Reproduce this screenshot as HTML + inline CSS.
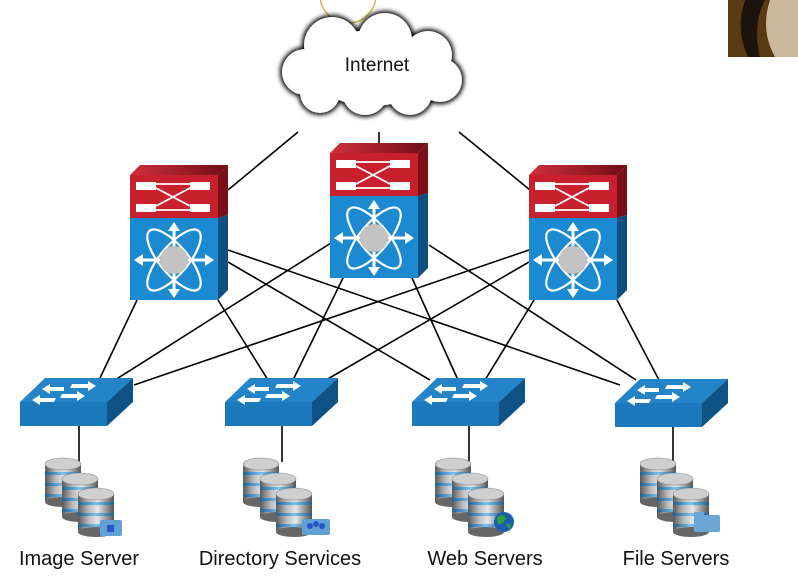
<!DOCTYPE html>
<html><head><meta charset="utf-8"><style>
html,body{margin:0;padding:0;background:#fff}
svg{display:block}
text{font-family:"Liberation Sans",sans-serif;fill:#111}
</style></head><body>
<svg width="798" height="583" viewBox="0 0 798 583" xmlns="http://www.w3.org/2000/svg">
<defs>
<linearGradient id="cyl" x1="0" x2="1" y1="0" y2="0">
<stop offset="0" stop-color="#5a5a5a"/><stop offset="0.3" stop-color="#bdbdbd"/><stop offset="0.55" stop-color="#e6e6e6"/><stop offset="1" stop-color="#555"/></linearGradient>
<linearGradient id="band" x1="0" x2="1"><stop offset="0" stop-color="#1d5f96"/><stop offset="0.5" stop-color="#7cc3ef"/><stop offset="1" stop-color="#1d5f96"/></linearGradient>
<linearGradient id="redtop" x1="0" x2="1"><stop offset="0" stop-color="#d0303c"/><stop offset="1" stop-color="#6e0d15"/></linearGradient>
<filter id="blur" x="-20%" y="-20%" width="140%" height="140%"><feGaussianBlur stdDeviation="2.5"/></filter>
<g id="core">
<polygon points="0,10 10,0 98,0 88,10" fill="url(#redtop)"/>
<rect x="0" y="10" width="88" height="43" fill="#c8202d"/>
<polygon points="88,10 98,0 98,50 88,53" fill="#7a0f18"/>
<rect x="0" y="53" width="88" height="82" fill="#1b8ad0"/>
<polygon points="88,53 98,50 98,125 88,135" fill="#0d4f7e"/>
<rect x="6" y="17" width="20" height="8" fill="#fff"/><rect x="60" y="17" width="20" height="8" fill="#fff"/>
<rect x="6" y="39" width="20" height="8" fill="#fff"/><rect x="60" y="39" width="20" height="8" fill="#fff"/>
<g stroke="#fff" stroke-width="1.8" fill="none"><line x1="26" y1="19" x2="60" y2="19"/><line x1="26" y1="45" x2="60" y2="45"/><line x1="26" y1="23" x2="60" y2="41"/><line x1="26" y1="41" x2="60" y2="23"/></g>
<g stroke="#fff" stroke-width="2.2" fill="none">
<ellipse cx="44" cy="95" rx="38" ry="14" transform="rotate(50 44 95)"/>
<ellipse cx="44" cy="95" rx="38" ry="14" transform="rotate(-50 44 95)"/>
<line x1="44" y1="62" x2="44" y2="128" stroke-width="3"/><line x1="9" y1="95" x2="79" y2="95" stroke-width="3"/></g>
<g fill="#fff"><polygon points="44,57 38,66 50,66"/><polygon points="44,133 38,124 50,124"/><polygon points="4,95 13,89 13,101"/><polygon points="84,95 75,89 75,101"/></g>
<circle cx="44" cy="95" r="14" fill="#c3c3c3"/>
</g>
<g id="acc">
<polygon points="0,24 25,0 113,0 87,24" fill="#2384c7"/>
<rect x="0" y="24" width="87" height="24" fill="#1b79bc"/>
<polygon points="87,24 113,0 113,24 87,48" fill="#0f5386"/>
<g fill="#fff">
<polygon points="22,11 30,6 30,9 44,9 44,13 30,13 30,16"/>
<polygon points="76,8 68,3 68,6 52,6 50,10 68,10 68,13"/>
<polygon points="12,22 20,17 20,20 36,20 34,24 20,24 20,27"/>
<polygon points="65,18 57,13 57,16 42,16 40,20 57,20 57,23"/>
</g>
</g>
<g id="cy">
<rect x="0" y="6" width="36" height="38" fill="url(#cyl)"/>
<ellipse cx="18" cy="44" rx="18" ry="5" fill="#666"/>
<rect x="0" y="14" width="36" height="3" fill="url(#band)"/>
<rect x="0" y="25" width="36" height="3" fill="url(#band)"/>
<rect x="0" y="36" width="36" height="3" fill="url(#band)"/>
<ellipse cx="18" cy="6" rx="18" ry="6" fill="#cfcfcf" stroke="#888" stroke-width="0.6"/>
</g>
<g id="stack">
<use href="#cy"/><use href="#cy" x="17" y="15"/><use href="#cy" x="33" y="30"/>
</g>
<g id="cloudshape">
<circle cx="305" cy="72" r="23"/><circle cx="332" cy="45" r="28"/><circle cx="385" cy="40" r="27"/><circle cx="428" cy="55" r="24"/><circle cx="440" cy="80" r="22"/><circle cx="410" cy="93" r="22"/><circle cx="365" cy="92" r="23"/><circle cx="320" cy="93" r="20"/><ellipse cx="372" cy="68" rx="62" ry="38"/>
</g>
</defs>
<!-- webcam -->
<rect x="728" y="0" width="70" height="57" fill="#5a3a12"/>
<path d="M745 0 Q735 30 748 57 L760 57 Q752 25 765 0Z" fill="#1c140c"/>
<path d="M770 0 Q760 30 775 57 L798 57 L798 0Z" fill="#c9b89a"/>
<circle cx="348" cy="-5" r="28" fill="none" stroke="#d8b84a" stroke-width="1.5"/>
<!-- cloud -->
<g filter="url(#blur)" fill="#000" stroke="#000" stroke-width="4"><use href="#cloudshape"/></g>
<g fill="#fff"><use href="#cloudshape"/></g>
<text x="377" y="71" font-size="19" text-anchor="middle">Internet</text>
<!-- lines -->
<g stroke="#000" stroke-width="1.6" fill="none">
<line x1="298" y1="132" x2="228" y2="190"/><line x1="379" y1="132" x2="379" y2="143"/><line x1="459" y1="132" x2="530" y2="190"/>
<line x1="137" y1="300" x2="100" y2="378"/><line x1="218" y1="300" x2="268" y2="380"/>
<line x1="228" y1="262" x2="430" y2="380"/><line x1="228" y1="250" x2="620" y2="385"/>
<line x1="331" y1="243" x2="115" y2="380"/><line x1="343" y1="278" x2="293" y2="380"/>
<line x1="412" y1="278" x2="458" y2="380"/><line x1="429" y1="245" x2="636" y2="380"/>
<line x1="529" y1="250" x2="134" y2="385"/><line x1="529" y1="262" x2="326" y2="380"/>
<line x1="534" y1="300" x2="485" y2="380"/><line x1="617" y1="300" x2="659" y2="380"/>
<line x1="79" y1="425" x2="79" y2="462"/><line x1="282" y1="425" x2="282" y2="462"/><line x1="469" y1="425" x2="469" y2="462"/><line x1="673" y1="425" x2="673" y2="462"/>
</g>
<use href="#core" x="130" y="165"/>
<use href="#core" x="330" y="143"/>
<use href="#core" x="529" y="165"/>
<use href="#acc" x="20" y="378"/>
<use href="#acc" x="225" y="378"/>
<use href="#acc" x="412" y="378"/>
<use href="#acc" x="615" y="379"/>
<use href="#stack" x="45" y="458"/>
<use href="#stack" x="243" y="458"/>
<use href="#stack" x="435" y="458"/>
<use href="#stack" x="640" y="458"/>
<!-- badges -->
<rect x="100" y="520" width="22" height="16" rx="2" fill="#5fa0d6"/><rect x="107" y="525" width="7" height="7" fill="#2a55c8"/>
<rect x="302" y="519" width="28" height="16" rx="2" fill="#5fa0d6"/><g fill="#2a55c8"><circle cx="310" cy="526" r="3"/><circle cx="316" cy="524" r="3"/><circle cx="322" cy="526" r="3"/></g>
<circle cx="504" cy="522" r="10" fill="#1c5fb0"/><path d="M497 518 Q502 512 506 518 Q502 526 498 524Z M506 524 Q512 522 510 530Z" fill="#2fa33a"/>
<rect x="694" y="515" width="26" height="17" rx="2" fill="#6aa6d6"/><rect x="694" y="512" width="10" height="5" fill="#6aa6d6"/>
<text x="79" y="565" font-size="20" text-anchor="middle">Image Server</text>
<text x="280" y="565" font-size="20" text-anchor="middle">Directory Services</text>
<text x="485" y="565" font-size="20" text-anchor="middle">Web Servers</text>
<text x="676" y="565" font-size="20" text-anchor="middle">File Servers</text>
</svg>
</body></html>
